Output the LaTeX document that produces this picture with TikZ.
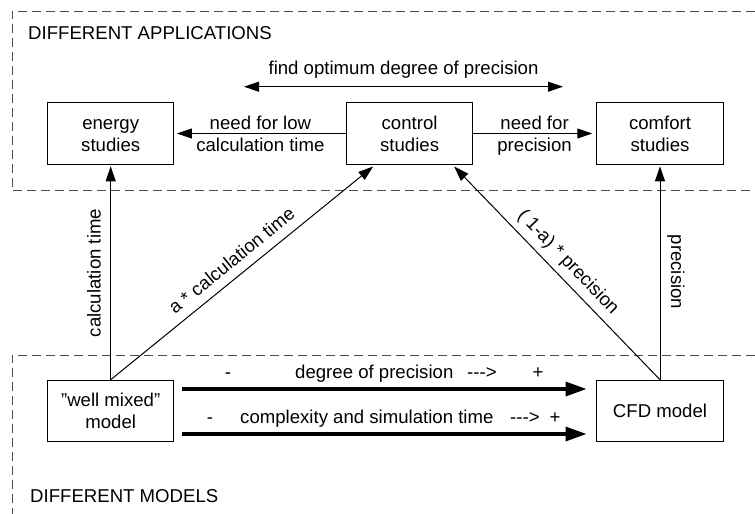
\documentclass[tikz,border=0pt]{standalone}
\usepackage{fontspec}
\setmainfont{Liberation Sans}
\usetikzlibrary{arrows.meta}
\newcommand\fs{\rule[-4pt]{0pt}{21pt}}
\newcommand\dq{\symbol{"22}}
\begin{document}
\begin{tikzpicture}[x=1pt,y=-1pt,
  every node/.style={font=\fontsize{18.6}{22}\selectfont},
  box/.style={draw, line width=1pt, minimum width=126.5pt, minimum height=61.6pt, inner sep=0pt, align=center},
  lbl/.style={inner sep=0pt, align=center},
  conn/.style={line width=1pt, -{Triangle[length=15pt,width=10pt]}},
  both/.style={line width=1pt, {Triangle[length=15pt,width=10pt]}-{Triangle[length=15pt,width=10pt]}},
  bigarrow/.style={line width=3.3pt, -{Triangle[length=21pt,width=14pt]}},
  frame/.style={dash pattern=on 9pt off 5pt, line width=1pt, black!70}
]
\useasboundingbox (0,0) rectangle (755,514);
% frames
\draw[frame] (755,11) -- (12,11) -- (12,190.7) -- (755,190.7);
\draw[frame] (755,355) -- (12,355) -- (12,514);
\node[lbl, anchor=base west] (tapps) at (28,39.3) {DIFFERENT APPLICATIONS};
\node[lbl, anchor=base west] (tmods) at (30,502) {DIFFERENT MODELS};
% boxes
\node[box] (energy) at (110.7,133.5) {\fs energy\\\fs studies};
\node[box] (control) at (409.6,133.5) {\fs control\\\fs studies};
\node[box] (comfort) at (660,133.5) {\fs comfort\\\fs studies};
\node[box] (wm) at (110.7,411) {\fs \dq well mixed\dq\\\fs model};
\node[box] (cfd) at (660,411) {\fs CFD model};
% top arrows
\draw[conn] (control.west) -- ([xshift=2.5pt]energy.east);
\draw[conn] (control.east) -- ([xshift=-4pt]comfort.west);
\node[lbl] (lowlbl) at (260.4,133.5) {\fs need for low\\\fs calculation time};
\node[lbl] (preclbl) at (534.6,133.5) {\fs need for\\\fs precision};
\coordinate (dl) at (244,86.7);
\coordinate (dr) at (563,86.7);
\draw[both] (dl) -- (dr);
\node[lbl, anchor=base] (opt) at (403.5,74) {find optimum degree of precision};
% vertical and diagonal connectors
\draw[conn] (wm.north) -- ([yshift=-1.5pt]energy.south);
\draw[conn] (cfd.north) -- ([yshift=-1.5pt]comfort.south);
\draw[conn] (wm.north) -- ([xshift=27.3pt,yshift=-1.7pt]control.south west);
\draw[conn] (cfd.north) -- ([xshift=-19.2pt,yshift=-1.7pt]control.south east);
\node[lbl, rotate=90] (lct) at (94,273) {calculation time};
\node[lbl, rotate=-90] (lpr) at (676,272) {precision};
\node[lbl, rotate=39.14] (la) at (231.5,260.5) {a * calculation time};
\node[lbl, rotate=-46.03] (lb) at (568,262.5) {( 1-a) * precision};
% thick arrows
\draw[bigarrow] ([xshift=7.7pt,yshift=22pt]wm.east) -- ([xshift=-9.7pt,yshift=22pt]cfd.west);
\draw[bigarrow] ([xshift=7.7pt,yshift=-23pt]wm.east) -- ([xshift=-9.7pt,yshift=-23pt]cfd.west);
\node[lbl, anchor=base] (m1) at (228,378) {-};
\node[lbl, anchor=base west] (d1) at (295,378) {degree of precision};
\node[lbl, anchor=base west] (a1) at (467,378) {-{}-{}->};
\node[lbl, anchor=base] (p1) at (538,378) {+};
\node[lbl, anchor=base] (m2) at (210,423) {-};
\node[lbl, anchor=base west] (d2) at (240,423) {complexity and simulation time};
\node[lbl, anchor=base west] (a2) at (510,423) {-{}-{}->};
\node[lbl, anchor=base] (p2) at (555,423) {+};
\end{tikzpicture}
\end{document}
